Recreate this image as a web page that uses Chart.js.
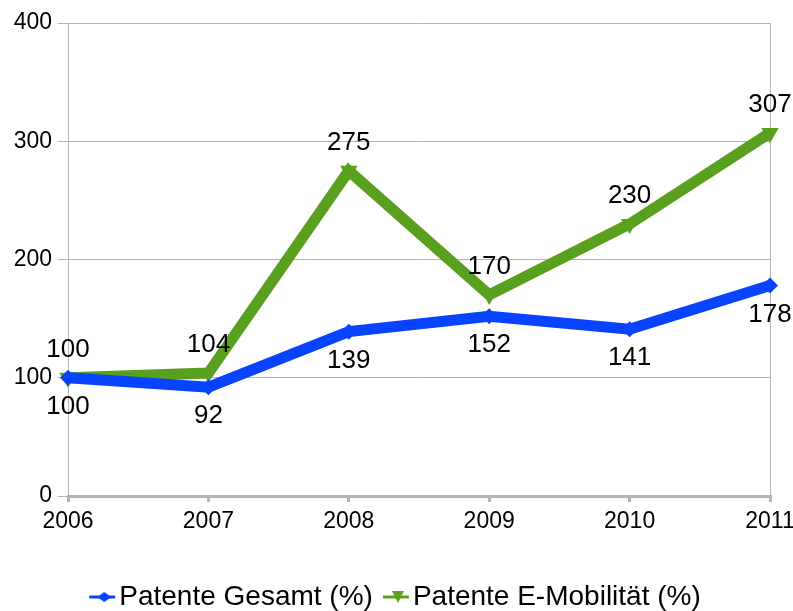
<!DOCTYPE html>
<html>
<head>
<meta charset="utf-8">
<script src="https://cdn.jsdelivr.net/npm/chart.js@4.4.1/dist/chart.umd.min.js"></script>
<style>
  html, body { margin: 0; padding: 0; background: #fff; }
  #wrap { width: 793px; height: 611px; }
</style>
</head>
<body>
<div id="wrap"><canvas id="grafico" width="793" height="611"></canvas></div>
<script>
const jahre = ["2006", "2007", "2008", "2009", "2010", "2011"];
const patenteGesamt = [100, 92, 139, 152, 141, 178];
const patenteEMob = [100, 104, 275, 170, 230, 307];
const yTicks = [0, 100, 200, 300, 400];

const BLAU = "#0843ff";
const GRUEN = "#58a01e";
const GRAU = "#b3b3b3";
const FONT = "'Liberation Sans', Arial, sans-serif";

// kleines Bild fuer die Legende: Linie + Marker (Marker in der Bildmitte)
function legendenIcon(farbe, form) {
  const c = document.createElement("canvas");
  c.width = 50; c.height = 16;
  const g = c.getContext("2d");
  g.strokeStyle = farbe;
  g.lineWidth = 3;
  g.beginPath(); g.moveTo(10, 8); g.lineTo(36, 8); g.stroke();
  g.fillStyle = farbe;
  g.beginPath();
  if (form === "raute") {
    g.moveTo(25, 3); g.lineTo(32, 8); g.lineTo(25, 13); g.lineTo(18, 8);
  } else {
    g.moveTo(19, 2); g.lineTo(31, 2); g.lineTo(25, 14);
  }
  g.closePath(); g.fill();
  return c;
}

// Werte an die Punkte schreiben (gruen oben, blau unten)
const wertePlugin = {
  id: "werte",
  afterLayout(chart) {
    // Legende etwas nach rechts, wie im Original
    chart.legend.left += 17;
    chart.legend.right += 17;
  },
  afterDatasetsDraw(chart) {
    const ctx = chart.ctx;
    ctx.save();
    ctx.font = "26px " + FONT;
    ctx.fillStyle = "#000";
    ctx.textAlign = "center";
    ctx.textBaseline = "middle";
    chart.data.datasets.forEach((ds, i) => {
      const meta = chart.getDatasetMeta(i);
      meta.data.forEach((pt, j) => {
        const dy = i === 1 ? -28 : 29;
        ctx.fillText(String(ds.data[j]), pt.x, pt.y + dy);
      });
    });
    ctx.restore();
  }
};

const ctx = document.getElementById("grafico").getContext("2d");
new Chart(ctx, {
  type: "line",
  data: {
    labels: jahre,
    datasets: [
      {
        label: "Patente Gesamt (%)",
        data: patenteGesamt,
        borderColor: BLAU,
        backgroundColor: BLAU,
        borderWidth: 11,
        tension: 0,
        pointStyle: "rectRot",
        pointRadius: 8,
        pointBorderWidth: 0
      },
      {
        label: "Patente E-Mobilität (%)",
        data: patenteEMob,
        borderColor: GRUEN,
        backgroundColor: GRUEN,
        borderWidth: 11,
        tension: 0,
        pointStyle: "triangle",
        rotation: 180,
        pointRadius: 10,
        pointBorderWidth: 0
      }
    ]
  },
  options: {
    responsive: false,
    animation: false,
    layout: { padding: { top: 23, right: 23, left: 0, bottom: -10 } },
    plugins: {
      tooltip: { enabled: false },
      legend: {
        position: "bottom",
        labels: {
          font: { family: FONT, size: 28 },
          color: "#000",
          usePointStyle: true,
          boxWidth: 2,
          padding: 24,
          generateLabels: chart => chart.data.datasets.map((ds, i) => ({
            text: ds.label,
            datasetIndex: i,
            fontColor: "#000",
            pointStyle: legendenIcon(ds.borderColor, i === 0 ? "raute" : "dreieck"),
            lineWidth: 0
          }))
        }
      }
    },
    scales: {
      x: {
        offset: false,
        grid: { drawOnChartArea: false, drawTicks: true, tickLength: 6, color: GRAU, lineWidth: 3 },
        border: { color: GRAU, width: 3 },
        ticks: { font: { family: FONT, size: 23 }, color: "#000", padding: 6, maxRotation: 0 },
        afterFit: s => { s.height = 63; s.paddingLeft = 0; s.paddingRight = 0; }
      },
      y: {
        min: 0,
        max: 400,
        afterBuildTicks: s => { s.ticks = yTicks.map(v => ({ value: v })); },
        grid: { color: GRAU, lineWidth: 1, tickLength: 10 },
        border: { color: GRAU, width: 1 },
        ticks: { font: { family: FONT, size: 23 }, color: "#000", padding: 6 },
        afterFit: s => { s.width = 68; s.paddingTop = 0; s.paddingBottom = 0; }
      },
      rechts: {
        position: "right",
        min: 0,
        max: 400,
        grid: { drawOnChartArea: false, drawTicks: false },
        border: { color: GRAU, width: 1 },
        ticks: { display: false },
        afterFit: s => { s.width = 0; }
      }
    }
  },
  plugins: [wertePlugin]
});
</script>
</body>
</html>
